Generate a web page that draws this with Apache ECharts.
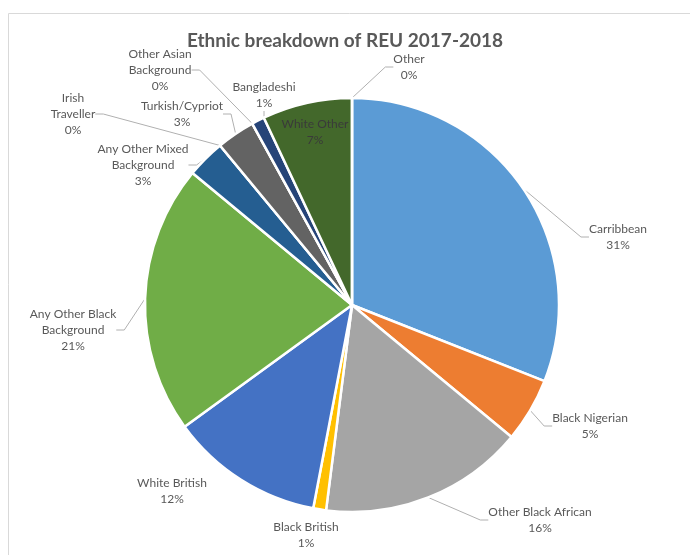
<!DOCTYPE html>
<html>
<head>
<meta charset="utf-8">
<script src="https://cdn.jsdelivr.net/npm/echarts@6/dist/echarts.min.js"></script>
<style>
  html, body { margin: 0; padding: 0; background: #fff; }
  #chart { width: 690px; height: 555px; }
</style>
</head>
<body>
<div id="chart"></div>
<script>
// Ethnic groups, clockwise from 12 o'clock
const categories = [
  'Carribbean', 'Black Nigerian', 'Other Black African', 'Black British',
  'White British', 'Any Other Black\nBackground', 'Any Other Mixed\nBackground',
  'Irish\nTraveller', 'Turkish/Cypriot', 'Other Asian\nBackground',
  'Bangladeshi', 'White Other', 'Other'
];
// Share of each group (%)
const shares = [31, 5, 16, 1, 12, 21, 3, 0, 3, 0, 1, 7, 0];

const colors = [
  '#5B9BD5', '#ED7D31', '#A5A5A5', '#FFC000', '#4472C4', '#70AD47', '#255E91',
  '#9E480E', '#636363', '#997300', '#264478', '#43682B', '#7CAFDD'
];

// Label centres in the canvas
const labelPos = [
  [618, 237], [590, 426], [540, 520], [306, 535], [172, 491], [73, 330],
  [143, 165], [73, 114], [182, 114], [160, 70], [264, 95], [315, 132], [409, 67]
];
// Groups whose label sits on/next to the slice without a leader line
const noLeader = new Set(['Black British', 'White British', 'White Other']);

const FONT = 'Lato, "Open Sans", sans-serif';

const chart = echarts.init(document.getElementById('chart'), null, { renderer: 'canvas' });

chart.setOption({
  animation: false,
  title: {
    text: 'Ethnic breakdown of REU 2017-2018',
    left: 'center',
    top: 24,
    textStyle: { fontFamily: FONT, fontSize: 19, fontWeight: 'bold', color: '#595959', lineHeight: 24 }
  },
  graphic: [{
    type: 'rect',
    shape: { x: 8.5, y: 13.5, width: 720, height: 600 },
    style: { fill: 'none', stroke: '#d9d9d9', lineWidth: 1 },
    silent: true
  }],
  series: [{
    type: 'pie',
    center: [352, 305],
    radius: [0, 207],
    startAngle: 90,
    clockwise: true,
    avoidLabelOverlap: false,
    itemStyle: { borderColor: '#ffffff', borderWidth: 2.5 },
    label: {
      show: true,
      formatter: '{b}\n{c}%',
      fontFamily: FONT,
      fontSize: 12,
      lineHeight: 16,
      color: '#595959',
      align: 'center'
    },
    labelLine: {
      show: true,
      length: 10,
      length2: 8,
      lineStyle: { color: '#b0b0b0', width: 1 }
    },
    labelLayout: function (p) {
      const pos = labelPos[p.dataIndex];
      return { x: pos[0], y: pos[1], align: 'center', verticalAlign: 'middle' };
    },
    data: categories.map(function (name, i) {
      const item = { name: name, value: shares[i], itemStyle: { color: colors[i] } };
      if (noLeader.has(name)) item.labelLine = { show: false };
      if (name === 'White Other') item.label = { color: '#3a3a3a' };
      return item;
    })
  }]
});
</script>
</body>
</html>
